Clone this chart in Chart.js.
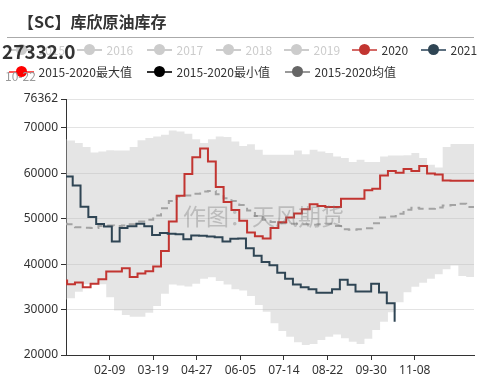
<!DOCTYPE html>
<html><head><meta charset="utf-8">
<script src="https://cdn.jsdelivr.net/npm/chart.js@4.4.1/dist/chart.umd.min.js"></script>
<style>
body{margin:0;background:#fff;}
#wrap{position:relative;width:483px;height:382px;overflow:hidden;background:#fff;font-family:"Noto Sans CJK SC","Noto Sans",sans-serif;}
#c{position:absolute;left:0;top:0;}
.t{position:absolute;white-space:nowrap;}
.ln{position:absolute;height:2px;width:25px;}
.dot{position:absolute;width:11px;height:11px;border-radius:50%;}
</style></head>
<body>
<div id="wrap">
<canvas id="c" width="483" height="382"></canvas>
<div class="t" style="left:18px;top:11px;font-size:16px;line-height:20px;font-weight:bold;color:#333;">【SC】库欣原油库存</div>
<div style="position:absolute;left:7px;top:37px;width:467px;height:1px;background:#aaa;"></div>
<div id="legend"></div>
<div class="t" style="left:183px;top:201px;font-size:23px;line-height:28px;color:rgba(120,120,120,0.38);">作图：天风期货</div>
</div>
<script>
// ---- data ----
const xTickDays = [39, 78, 117, 156, 195, 234, 273, 312];
const xTickLabels = ['02-09', '03-19', '04-27', '06-05', '07-14', '08-22', '09-30', '11-08'];
const yTickValues = [20000, 30000, 40000, 50000, 60000, 70000, 76362];

const weekDays = [0, 1, 8, 15, 22, 29, 36, 43, 50, 57, 64, 71, 78, 85, 92, 99, 106, 113, 120, 127, 134, 141, 148, 155, 162, 169, 176, 183, 190, 197, 204, 211, 218, 225, 232, 239, 246, 253, 260, 267, 274, 281, 288, 295, 302, 309, 316, 323, 330, 337, 344, 351, 358, 365];

const y2020 = [36380, 35590, 35940, 34930, 35660, 36690, 38370, 38370, 39120, 37200, 37930, 38450, 39470, 42870, 49390, 55060, 59840, 63510, 65490, 62620, 56980, 53700, 51900, 49550, 46970, 46170, 45640, 47940, 49220, 50250, 51160, 52080, 53190, 52790, 52570, 52570, 54400, 54400, 54400, 56270, 56600, 59510, 60510, 60130, 60970, 60530, 61610, 59980, 59730, 58430, 58370, 58370, 58370, 58370];

const max2015_2020 = [67500, 67200, 66700, 65800, 64600, 64800, 65100, 65000, 65000, 65800, 67300, 67800, 68100, 68500, 69400, 69200, 68700, 67500, 66700, 67500, 68100, 68000, 67000, 66000, 66400, 65200, 64100, 64100, 64100, 64100, 65000, 64200, 65200, 64830, 64470, 63730, 63370, 62500, 63000, 62500, 62500, 63700, 63950, 63950, 64000, 64470, 63370, 61900, 61300, 65800, 66460, 66460, 66460, 67400];

const min2015_2020 = [32200, 32500, 33900, 35550, 35550, 35550, 32700, 29800, 28800, 28400, 28400, 29300, 30800, 33500, 35500, 35300, 35100, 35660, 36800, 37100, 36300, 35500, 34500, 34200, 33000, 31000, 29500, 27000, 25300, 24000, 22800, 22200, 22400, 23300, 24000, 24500, 23700, 22900, 22400, 23600, 25500, 27300, 29400, 31600, 33800, 35000, 35900, 36800, 37800, 38900, 39700, 37400, 37200, 36600];

const mean2015_2020 = [48900, 48800, 48100, 48000, 47950, 48400, 48500, 48400, 48500, 48800, 49400, 49800, 50700, 52300, 53900, 54900, 55100, 55500, 56000, 56100, 55400, 54500, 53900, 53000, 51800, 50600, 49800, 49300, 49000, 48900, 48900, 48800, 48700, 48800, 48900, 48400, 47700, 47600, 47700, 47900, 49000, 50300, 50500, 51100, 52000, 52400, 52200, 52200, 52500, 52900, 53000, 53300, 52600, 52500];

const days2021 = [0, 6, 13, 20, 27, 34, 41, 48, 55, 63, 70, 77, 84, 91, 98, 105, 112, 119, 126, 133, 140, 147, 154, 161, 168, 175, 182, 189, 196, 203, 210, 217, 224, 231, 238, 245, 252, 259, 266, 273, 280, 287, 294];
const y2021 = [59320, 57300, 52650, 50360, 48850, 48290, 44980, 47940, 48370, 48900, 48370, 46420, 46870, 46680, 46600, 45510, 46300, 46240, 46080, 45900, 44980, 45580, 45650, 43530, 41830, 40450, 39750, 38100, 36800, 35520, 34930, 34490, 33700, 33700, 34490, 36540, 35440, 33970, 33970, 35660, 33740, 31400, 27332];

const lastValueText = '27332.0';
const lastDateText = '10-22';

const legendRow1 = ['2015', '2016', '2017', '2018', '2019', '2020', '2021'];
const legendRow2 = ['2015-2020最大值', '2015-2020最小值', '2015-2020均值'];

// ---- legend (HTML text) ----
const leg = document.getElementById('legend');
function addItem(name, x0, yc, lineColor, dotColor, textColor) {
  const l = document.createElement('div'); l.className = 'ln';
  l.style.left = x0 + 'px'; l.style.top = (yc - 1) + 'px'; l.style.background = lineColor; leg.appendChild(l);
  const d = document.createElement('div'); d.className = 'dot';
  d.style.left = (x0 + 7) + 'px'; d.style.top = (yc - 5.5) + 'px'; d.style.background = dotColor; leg.appendChild(d);
  const t = document.createElement('div'); t.className = 't';
  t.style.left = (x0 + 30) + 'px'; t.style.top = (yc - 8) + 'px';
  t.style.fontSize = '12px'; t.style.lineHeight = '16px'; t.style.color = textColor;
  t.textContent = name; leg.appendChild(t);
}
const row1X = [8.5, 76.5, 146.5, 215.5, 283.5, 351.5, 420.5];
const row1Style = [
  ['#ccc', '#ccc', '#ccc'], ['#ccc', '#ccc', '#ccc'], ['#ccc', '#ccc', '#ccc'],
  ['#ccc', '#ccc', '#ccc'], ['#ccc', '#ccc', '#ccc'],
  ['#d46a67', '#c23531', '#333'], ['#5d7080', '#2f4554', '#333']
];
legendRow1.forEach((n, i) => addItem(n, row1X[i], 49.5, row1Style[i][0], row1Style[i][1], row1Style[i][2]));
const row2X = [8.5, 146.5, 284.5];
const row2Style = [['#f55', '#ff0000', '#333'], ['#333', '#000', '#333'], ['#999', '#666', '#333']];
legendRow2.forEach((n, i) => addItem(n, row2X[i], 71.5, row2Style[i][0], row2Style[i][1], row2Style[i][2]));

const big = document.createElement('div'); big.className = 't';
big.style.cssText += 'left:2px;top:39px;font-size:19px;line-height:24px;font-weight:bold;color:#333;';
big.textContent = lastValueText; leg.appendChild(big);
const dt = document.createElement('div'); dt.className = 't';
dt.style.cssText += 'left:5px;top:68px;font-size:12px;line-height:16px;color:#999;';
dt.textContent = lastDateText; leg.appendChild(dt);

// ---- chart ----
const toXY = (xs, ys) => xs.map((x, i) => ({ x: x, y: ys[i] }));
const fontSpec = { family: '"Noto Sans", "Noto Sans CJK SC", sans-serif', size: 12 };

new Chart(document.getElementById('c'), {
  type: 'line',
  data: {
    datasets: [
      { label: '2021', data: toXY(days2021, y2021), borderColor: '#2f4554', borderWidth: 2, pointRadius: 0, stepped: true, fill: false, order: 0 },
      { label: '2020', data: toXY(weekDays, y2020), borderColor: '#c23531', borderWidth: 2, pointRadius: 0, stepped: true, fill: false, order: 1 },
      { label: '2015-2020均值', data: toXY(weekDays, mean2015_2020), borderColor: '#a3a3a3', borderWidth: 2, borderDash: [7, 5], pointRadius: 0, stepped: true, fill: false, order: 2 },
      { label: '2015-2020最大值', data: toXY(weekDays, max2015_2020), borderColor: 'rgba(0,0,0,0)', borderWidth: 0, pointRadius: 0, stepped: true, fill: '+1', backgroundColor: 'rgba(190,190,190,0.4)', order: 3 },
      { label: '2015-2020最小值', data: toXY(weekDays, min2015_2020), borderColor: 'rgba(0,0,0,0)', borderWidth: 0, pointRadius: 0, stepped: true, fill: false, order: 4 }
    ]
  },
  options: {
    responsive: false,
    animation: false,
    events: [],
    layout: { padding: { top: 99, right: 9, left: 0, bottom: 0 } },
    plugins: { legend: { display: false }, tooltip: { enabled: false }, title: { display: false } },
    scales: {
      x: {
        type: 'linear', min: 0, max: 365,
        afterFit: s => { s.height = 27; },
        afterBuildTicks: s => { s.ticks = xTickDays.map(v => ({ value: v })); },
        grid: { drawOnChartArea: false, drawTicks: true, tickLength: 5, tickColor: '#333' },
        border: { display: true, color: '#333', width: 1 },
        ticks: { autoSkip: false, maxRotation: 0, padding: 3, color: '#333', font: fontSpec,
          callback: (v, i) => xTickLabels[i] }
      },
      y: {
        min: 20000, max: 76362,
        afterFit: s => { s.width = 66; },
        afterBuildTicks: s => { s.ticks = yTickValues.map(v => ({ value: v })); },
        grid: { color: '#e3e3e3', drawTicks: true, tickLength: 5, tickColor: '#333' },
        border: { display: true, color: '#333', width: 1 },
        ticks: { padding: 3, color: '#333', font: fontSpec, callback: (v) => String(v) }
      }
    }
  }
});
</script>
</body></html>
